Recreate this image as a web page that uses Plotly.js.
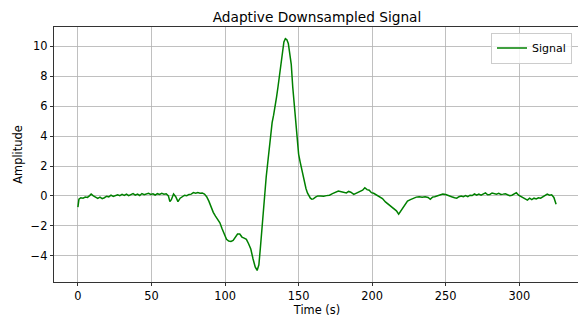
<!DOCTYPE html>
<html>
<head>
<meta charset="utf-8">
<script src="https://cdn.plot.ly/plotly-3.0.1.min.js"></script>
<style>
html,body{margin:0;padding:0;overflow:hidden;background:#fff;width:578px;height:317px;}
#chart{width:581px;height:317px;}
</style>
</head>
<body>
<div id="chart"></div>
<script>
// Time (s)
var timeValues = [
  0, 0.7, 2, 3.5, 5, 6.5, 8, 9, 10.5, 12, 13.5, 15, 16.5, 18, 19.5, 21, 22.5, 24, 25.5, 27,
  28.5, 30, 31.5, 33, 34.5, 36, 37.5, 39, 40.5, 42, 43.5, 45, 46.5, 48, 49.5, 51, 52.5, 54, 55.5, 57,
  58.5, 60, 61.5, 62.5, 63.5, 65, 66.5, 68, 69.5, 71, 72.5, 74, 75.5, 77, 78.5, 80, 81.5, 83, 84.5, 86,
  87.5, 89, 90.5, 92, 93.5, 95, 96.5, 98, 99.5, 101, 102.5, 104, 105.5, 107, 108.5, 110, 111.5, 113, 114.5, 116,
  117.5, 119, 120.5, 121.8, 123, 124, 125, 126, 127, 128, 129, 130, 131, 132, 133, 134, 135, 136, 137, 138,
  139, 140, 141, 142, 143, 144, 145, 146, 147, 148, 149, 150, 151, 152, 153, 154, 155, 156, 157, 158,
  159, 160, 161.5, 163, 165, 167, 169, 171, 173, 175, 177, 179, 181, 182.5, 184, 185.5, 187.5, 189.5, 191.5, 193.5,
  195, 196.5, 198, 199.5, 201, 203, 205, 207, 209, 211, 213, 215, 216.5, 218, 219.5, 221, 222.5, 224, 226, 228,
  230, 232, 234, 236, 238, 239.5, 241, 242.5, 244, 246, 248, 250, 252, 254, 256, 257.5, 259, 260.5, 262, 263.5,
  265, 266.5, 268, 269.5, 271, 272.5, 274, 275.5, 277, 278.5, 280, 281.5, 283, 284.5, 286, 287.5, 289, 290.5, 292, 293.5,
  295, 296.5, 298, 299.5, 301, 302.5, 304, 305.5, 307, 308.5, 310, 311.5, 313, 314.5, 316, 317.5, 319, 320.5, 322, 323.5,
  325
];
// Amplitude
var signalValues = [
  -0.75, -0.22, -0.12, -0.15, -0.08, -0.1, 0.02, 0.12, 0.0, -0.1, -0.16, -0.08, -0.18, -0.12, -0.02, -0.06, 0.05, -0.03, 0.0, 0.08,
  0.02, 0.1, 0.04, 0.12, 0.02, 0.08, 0.15, 0.05, 0.12, 0.03, 0.16, 0.08, 0.12, 0.18, 0.1, 0.14, 0.06, 0.15, 0.1, 0.18,
  0.12, 0.14, 0.0, -0.38, -0.25, 0.13, -0.05, -0.38, -0.15, -0.02, 0.05, 0.02, 0.1, 0.12, 0.22, 0.18, 0.22, 0.18, 0.2, 0.12,
  -0.05, -0.35, -0.75, -1.1, -1.35, -1.55, -1.8, -2.2, -2.6, -2.9, -3.02, -3.05, -2.98, -2.75, -2.55, -2.55, -2.75, -2.82, -2.9, -3.2,
  -3.55, -4.2, -4.75, -4.98, -4.6, -3.5, -2.2, -0.9, 0.3, 1.3, 2.2, 3.1, 4.2, 4.9, 5.4, 5.9, 6.6, 7.3, 8.0, 8.8,
  9.6, 10.3, 10.52, 10.45, 10.2, 9.6, 8.8, 7.3, 6.1, 4.8, 3.5, 2.8, 2.3, 1.8, 1.3, 0.85, 0.5, 0.2, 0.0, -0.15,
  -0.22, -0.2, -0.08, 0.0, 0.0, -0.02, 0.02, 0.05, 0.15, 0.25, 0.33, 0.28, 0.25, 0.2, 0.3, 0.25, 0.1, 0.18, 0.28, 0.38,
  0.55, 0.42, 0.38, 0.22, 0.18, 0.05, -0.1, -0.18, -0.4, -0.55, -0.7, -0.85, -1.0, -1.22, -1.0, -0.75, -0.5, -0.35, -0.25, -0.15,
  -0.08, -0.05, -0.08, -0.05, -0.1, -0.22, -0.08, -0.05, 0.0, 0.05, 0.12, 0.1, 0.0, -0.05, -0.12, -0.15, -0.05, 0.0, -0.05, 0.02,
  -0.05, 0.05, 0.03, 0.14, 0.05, 0.12, 0.05, 0.15, 0.2, 0.08, 0.1, 0.2, 0.16, 0.12, 0.18, 0.1, 0.12, 0.15, 0.08, 0.02,
  0.05, 0.12, 0.22, 0.05, -0.05, -0.1, -0.2, -0.28, -0.15, -0.25, -0.15, -0.2, -0.12, -0.15, -0.05, 0.05, 0.12, 0.05, 0.08, -0.1,
  -0.55
];
var xTickValues = [0, 50, 100, 150, 200, 250, 300];
var yTickValues = [-4, -2, 0, 2, 4, 6, 8, 10];

var font = "DejaVu Sans, sans-serif";
var trace = {
  x: timeValues,
  y: signalValues,
  type: "scatter",
  mode: "lines",
  name: "Signal",
  line: {color: "#008000", width: 1.5},
  showlegend: true
};

var axisCommon = {
  showline: true,
  linecolor: "#000",
  linewidth: 0.8,
  mirror: true,
  ticks: "outside",
  ticklen: 3.5,
  tickwidth: 0.8,
  tickcolor: "#000",
  showgrid: true,
  gridcolor: "#b0b0b0",
  gridwidth: 0.8,
  zeroline: false,
  tickfont: {family: font, size: 11.4, color: "#000"}
};

var layout = {
  width: 581,
  height: 317,
  margin: {l: 54.4, r: 0.5, t: 26.7, b: 34.7},
  paper_bgcolor: "#fff",
  plot_bgcolor: "#fff",
  font: {family: font, color: "#000"},
  title: {
    text: "Adaptive Downsampled Signal",
    font: {family: font, size: 13.7, color: "#000"},
    xref: "paper", x: 0.5, xanchor: "center",
    yref: "paper", y: 1, yanchor: "bottom",
    pad: {b: 5}
  },
  xaxis: Object.assign({}, axisCommon, {
    range: [-16.25, 341.25],
    tickvals: xTickValues,
    title: {text: "Time (s)", font: {family: font, size: 11.4, color: "#000"}, standoff: 3}
  }),
  yaxis: Object.assign({}, axisCommon, {
    range: [-5.755, 11.295],
    tickvals: yTickValues,
    title: {text: "Amplitude", font: {family: font, size: 11.4, color: "#000"}, standoff: 5}
  }),
  legend: {
    x: 0.9848, y: 0.978, xanchor: "right", yanchor: "top",
    bgcolor: "rgba(255,255,255,0.8)",
    bordercolor: "#cccccc",
    borderwidth: 1,
    font: {family: font, size: 11, color: "#000"},
    itemwidth: 30
  }
};

Plotly.newPlot("chart", [trace], layout, {displayModeBar: false, staticPlot: true});
</script>
</body>
</html>
